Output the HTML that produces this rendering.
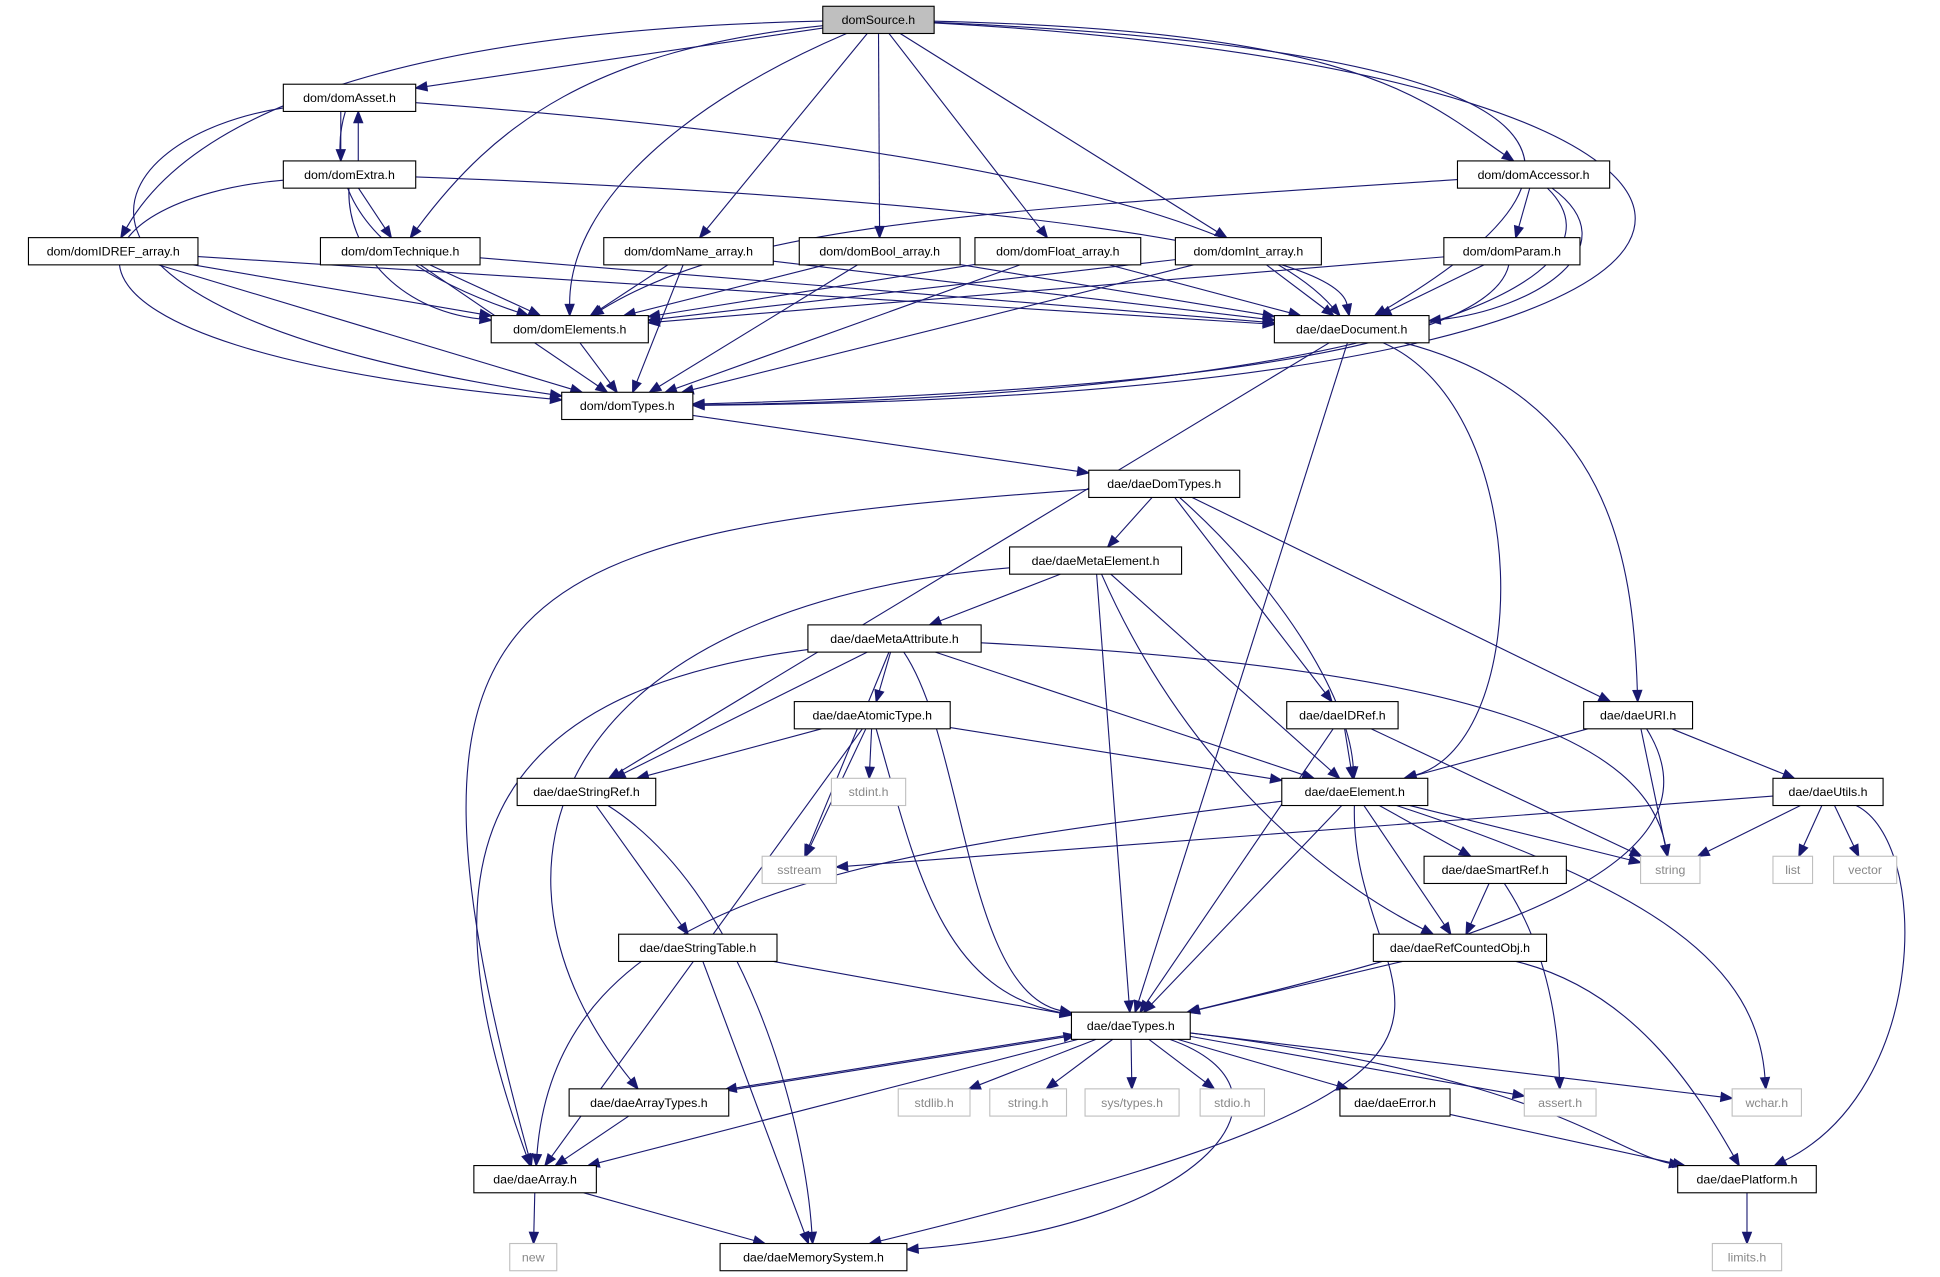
<!DOCTYPE html>
<html><head><meta charset="utf-8"><style>
html,body{margin:0;padding:0;background:#fff;}
svg{display:block}
text{font-family:"Liberation Sans",sans-serif;font-size:10px;}
</style></head><body>
<svg id="g" width="1940" height="1277" viewBox="0 0 1568 1032" xmlns="http://www.w3.org/2000/svg"></svg>
<script>
var N={
S:[665,5,755,27,"domSource.h",2],
As:[229,68,336,90,"dom/domAsset.h"],
Ex:[229,130,336,152,"dom/domExtra.h"],
ID:[23,192,160,214,"dom/domIDREF_array.h"],
Te:[259,192,388,214,"dom/domTechnique.h"],
Na:[488,192,625,214,"dom/domName_array.h"],
Bo:[646,192,776,214,"dom/domBool_array.h"],
Fl:[788,192,922,214,"dom/domFloat_array.h"],
In:[950,192,1068,214,"dom/domInt_array.h"],
Pa:[1167,192,1277,214,"dom/domParam.h"],
Ac:[1178,130,1301,152,"dom/domAccessor.h"],
El:[397,255,524,277,"dom/domElements.h"],
Do:[1030,255,1155,277,"dae/daeDocument.h"],
Ty:[454,317,560,339,"dom/domTypes.h"],
DT:[880,380,1002,402,"dae/daeDomTypes.h"],
ME:[816,442,955,464,"dae/daeMetaElement.h"],
MA:[653,505,793,527,"dae/daeMetaAttribute.h"],
AT:[642,567,768,589,"dae/daeAtomicType.h"],
IR:[1040,567,1130,589,"dae/daeIDRef.h"],
UR:[1280,567,1368,589,"dae/daeURI.h"],
SR:[418,629,530,651,"dae/daeStringRef.h"],
si:[672,629,732,651,"stdint.h",1],
E:[1036,629,1154,651,"dae/daeElement.h"],
Ut:[1433,629,1522,651,"dae/daeUtils.h"],
ss:[616,692,676,714,"sstream",1],
SM:[1151,692,1266,714,"dae/daeSmartRef.h"],
st:[1326,692,1374,714,"string",1],
li:[1433,692,1465,714,"list",1],
ve:[1482,692,1533,714,"vector",1],
STb:[500,755,628,777,"dae/daeStringTable.h"],
RC:[1110,755,1250,777,"dae/daeRefCountedObj.h"],
T:[866,818,962,840,"dae/daeTypes.h"],
AY:[460,880,589,902,"dae/daeArrayTypes.h"],
sl:[726,880,784,902,"stdlib.h",1],
sh:[800,880,862,902,"string.h",1],
sy:[877,880,953,902,"sys/types.h",1],
sd:[970,880,1022,902,"stdio.h",1],
Er:[1083,880,1172,902,"dae/daeError.h"],
as:[1232,880,1290,902,"assert.h",1],
wc:[1400,880,1456,902,"wchar.h",1],
Ar:[383,942,482,964,"dae/daeArray.h"],
Pl:[1356,942,1468,964,"dae/daePlatform.h"],
ne:[412,1005,450,1027,"new",1],
MS:[582,1005,733,1027,"dae/daeMemorySystem.h"],
lm:[1384,1005,1440,1027,"limits.h",1]
};
var E=[
["S","As"],["S","ID",[300,25,150,100]],["S","Te",[480,40,400,100]],["S","El",[560,80,460,160]],["S","Na"],["S","Bo"],["S","Fl"],["S","In"],
["S","Ac",[1100,25,1150,80]],["S","Do",[1250,40,1340,120]],["S","Ty",[1520,60,1560,320]],
["As","Ex"],["Ex","As"],["As","El",[270,120,260,200]],["As","Ty",[80,110,-10,250]],["As","Do",[700,110,1000,160]],
["Ex","Te"],["Ex","El",[280,200,320,250]],["Ex","Ty",[60,160,-20,280]],["Ex","Do",[800,160,1080,200]],
["ID","El"],["ID","Ty"],["ID","Do"],
["Te","El"],["Te","Ty"],["Te","Do"],
["Na","El"],["Na","Ty"],["Na","Do"],
["Bo","El"],["Bo","Ty"],["Bo","Do"],
["Fl","El"],["Fl","Ty"],["Fl","Do"],
["In","El"],["In","Ty"],["In","Do"],
["Pa","El"],["Pa","Ty",[1200,300,800,320]],["Pa","Do"],
["Ac","Pa"],["Ac","El",[800,170,600,180]],["Ac","Do",[1320,200,1240,250]],["Ac","Ty",[1330,230,1100,320]],
["El","Ty"],
["Do","SR"],["Do","T"],["Do","E",[1240,330,1240,600]],["Do","UR",[1300,320,1320,450]],
["Ty","DT"],
["DT","Ar",[400,430,300,470]],["DT","ME"],["DT","IR"],["DT","E",[1030,470,1090,560]],["DT","UR"],
["ME","MA"],["ME","AY",[450,490,370,700]],["ME","T"],["ME","RC",[950,600,1050,700]],["ME","E"],
["MA","Ar",[380,560,340,700]],["MA","SR"],["MA","AT"],["MA","ss"],["MA","T",[780,600,780,800]],["MA","E"],["MA","st",[1200,540,1330,600]],
["AT","SR"],["AT","si"],["AT","ss"],["AT","Ar"],["AT","T",[740,700,760,800]],["AT","E"],
["IR","E"],["IR","T"],["IR","st"],
["UR","E"],["UR","st"],["UR","Ut"],["UR","T",[1400,700,1200,760]],
["Ut","ss"],["Ut","st"],["Ut","li"],["Ut","ve"],["Ut","Pl",[1560,680,1560,880]],
["SR","STb"],["SR","MS",[600,720,650,900]],
["E","Ar",[700,690,450,720]],["E","SM"],["E","RC"],["E","T"],["E","st"],["E","wc",[1340,720,1420,780]],["E","MS",[1090,820,1300,860]],
["SM","RC"],["SM","as",[1260,780,1260,860]],
["RC","T"],["RC","Pl",[1320,800,1370,880]],
["STb","T"],["STb","MS"],
["T","AY"],["AY","T"],["T","sl"],["T","sh"],["T","sy"],["T","sd"],["T","Er"],["T","as"],["T","wc"],["T","Pl",[1250,870,1300,930]],["T","Ar"],["T","MS",[1060,880,980,990]],
["AY","Ar"],["Ar","ne"],["Ar","MS"],["Er","Pl"],["Pl","lm"]
];
var ns="http://www.w3.org/2000/svg",g=document.getElementById("g");
function el(t,a){var e=document.createElementNS(ns,t);for(var k in a)e.setAttribute(k,a[k]);g.appendChild(e);return e;}
function c(n){return[(n[0]+n[2])/2,(n[1]+n[3])/2];}
function clip(n,p){var C=c(n),dx=p[0]-C[0],dy=p[1]-C[1],hw=(n[2]-n[0])/2,hh=(n[3]-n[1])/2;
 var t=Math.min(Math.abs(dx)>1e-6?hw/Math.abs(dx):1e9,Math.abs(dy)>1e-6?hh/Math.abs(dy):1e9);
 return[C[0]+dx*t,C[1]+dy*t];}
E.forEach(function(e){
 var a=N[e[0]],b=N[e[1]],cp=e[2];
 var o=0; if(e[0]=="As"&&e[1]=="Ex")o=-6; if(e[0]=="Ex"&&e[1]=="As")o=6;
 if(e[0]=="T"&&e[1]=="AY")o=-3; if(e[0]=="AY"&&e[1]=="T")o=3;
 var ca=c(a),cb=c(b);ca=[ca[0]+o,ca[1]];cb=[cb[0]+o,cb[1]];
 var p1,p2,d;
 if(cp){p1=clip(a,[cp[0],cp[1]]);p2=clip(b,[cp[2],cp[3]]);}
 else{p1=clip(a,cb);p2=clip(b,ca);if(o){p1[0]+=o;p2[0]+=o;}}
 var from=cp?[cp[2],cp[3]]:p1;
 var dx=p2[0]-from[0],dy=p2[1]-from[1],L=Math.sqrt(dx*dx+dy*dy)||1;dx/=L;dy/=L;
 var al=9,aw=3.5,bx=p2[0]-dx*al,by=p2[1]-dy*al;
 if(cp)d="M"+p1.join(",")+" C"+cp[0]+","+cp[1]+" "+cp[2]+","+cp[3]+" "+bx+","+by;
 else d="M"+p1.join(",")+" L"+bx+","+by;
 el("path",{d:d,fill:"none",stroke:"#191970","stroke-width":0.9});
 el("polygon",{points:p2.join(",")+" "+(bx-dy*aw)+","+(by+dx*aw)+" "+(bx+dy*aw)+","+(by-dx*aw),fill:"#191970",stroke:"#191970","stroke-width":1});
});
for(var k in N){var n=N[k];
 el("rect",{x:n[0],y:n[1],width:n[2]-n[0],height:n[3]-n[1],fill:n[5]==2?"#bfbfbf":"#fff",stroke:n[5]==1?"#bfbfbf":"#000","stroke-width":0.9});
 var t=el("text",{x:(n[0]+n[2])/2,y:(n[1]+n[3])/2+3.5,"text-anchor":"middle",fill:n[5]==1?"#888":"#000"});t.textContent=n[4];}
</script>
</body></html>
